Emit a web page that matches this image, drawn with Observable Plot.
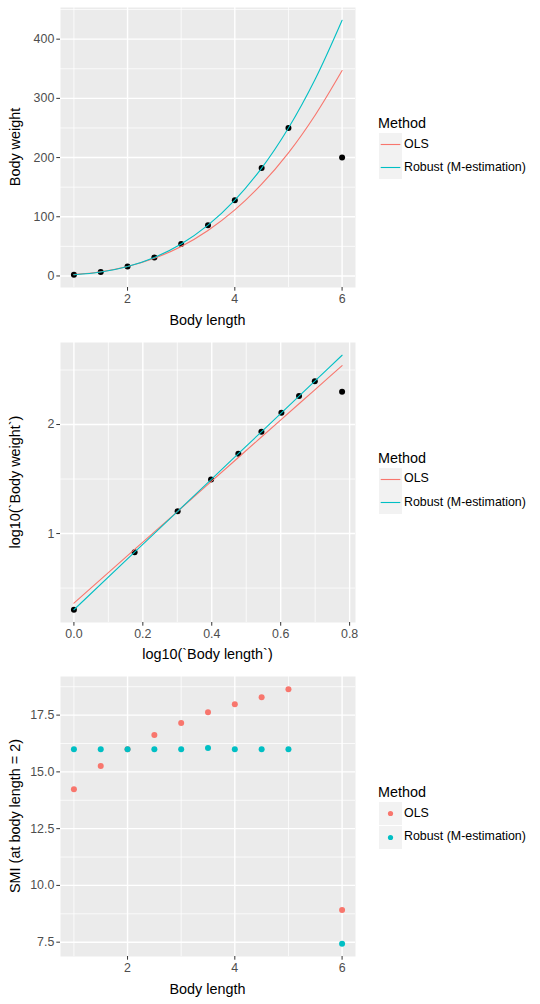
<!DOCTYPE html>
<html>
<head>
<meta charset="utf-8">
<script src="https://cdn.jsdelivr.net/npm/d3@7"></script>
<script src="https://cdn.jsdelivr.net/npm/@observablehq/plot@0.6"></script>
<style>
  html, body { margin: 0; padding: 0; background: #ffffff; }
  #wrap { position: relative; width: 540px; height: 1004px; overflow: hidden;
          font-family: "Liberation Sans", Arial, sans-serif; }
  .row { position: absolute; left: 0; width: 540px; height: 335px; }
  .row svg { position: absolute; left: 0; top: 0; }
  .lab { position: absolute; white-space: nowrap; line-height: 1; color: #000; }
  .ctr { transform: translate(-50%, -50%); }
  .rot { transform: translate(-50%, -50%) rotate(-90deg); }
  .key { position: absolute; width: 23px; height: 23px; background: #F2F2F2; }
</style>
</head>
<body>
<div id="wrap"></div>
<script>
// ---- data ----
const bodyLength = [1, 1.5, 2, 2.5, 3, 3.5, 4, 4.5, 5, 6];
const bodyWeight = [2, 6.75, 16, 31.25, 54, 85.75, 128, 182.25, 250, 200];

const fitLength  = [1, 1.5, 2, 2.5, 3, 3.5, 4, 4.5, 5, 5.5, 6];
const olsFit     = [2.3, 7.16, 16.0, 29.9, 49.8, 76.8, 111.5, 155, 208, 272, 347];
const robustFit  = [2, 6.75, 16, 31.25, 54, 85.75, 128, 182.25, 250, 332.75, 432];

const smiOLS     = [14.24, 15.26, 16.0, 16.62, 17.15, 17.63, 17.98, 18.29, 18.64, 8.92];
const smiRobust  = [16.0, 16.0, 16.0, 16.0, 16.0, 16.05, 16.0, 16.0, 16.0, 7.43];

const methods = ["OLS", "Robust (M-estimation)"];
const methodColors = ["#F8766D", "#00BFC4"];

// tick values
const lenMajor = [2, 4, 6];
const lenMinor = [1, 3, 5];
const wMajor = [0, 100, 200, 300, 400];
const wMinor = [50, 150, 250, 350, 450];
const logLenMajor = [0, 0.2, 0.4, 0.6, 0.8];
const logLenMinor = [0.1, 0.3, 0.5, 0.7];
const logWMajor = [1, 2];
const logWMinor = [0.5, 1.5, 2.5];
const smiMajor = [7.5, 10, 12.5, 15, 17.5];
const smiMinor = [8.75, 11.25, 13.75, 16.25, 18.75];

// ---- build tables ----
const pts = bodyLength.map((L, i) => ({L, W: bodyWeight[i], lL: Math.log10(L), lW: Math.log10(bodyWeight[i])}));
const fits = [];
fitLength.forEach((L, i) => {
  fits.push({L, W: olsFit[i], lL: Math.log10(L), lW: Math.log10(olsFit[i]), m: methods[0]});
});
fitLength.forEach((L, i) => {
  fits.push({L, W: robustFit[i], lL: Math.log10(L), lW: Math.log10(robustFit[i]), m: methods[1]});
});
const smi = [];
bodyLength.forEach((L, i) => smi.push({L, s: smiOLS[i], m: methods[0]}));
bodyLength.forEach((L, i) => smi.push({L, s: smiRobust[i], m: methods[1]}));

function expand(vals) {
  const [a, b] = d3.extent(vals);
  const d = (b - a) * 0.05;
  return [a - d, b + d];
}

const FONT = '"Liberation Sans", Arial, sans-serif';
const ROWH = 1004 / 3;

function panel({xDom, yDom, xMaj, xMin, yMaj, yMin, xFmt, yFmt, marks}) {
  return Plot.plot({
    width: 540, height: 335,
    marginLeft: 60, marginRight: 185, marginTop: 7, marginBottom: 48,
    x: {domain: xDom},
    y: {domain: yDom},
    color: {domain: methods, range: methodColors},
    style: {fontFamily: FONT, fontSize: "12.4px", background: "transparent", overflow: "visible"},
    marks: [
      Plot.frame({fill: "#EBEBEB", stroke: null}),
      Plot.ruleY(yMin, {stroke: "#ffffff", strokeWidth: 0.75}),
      Plot.ruleX(xMin, {stroke: "#ffffff", strokeWidth: 0.75}),
      Plot.ruleY(yMaj, {stroke: "#ffffff", strokeWidth: 1.4}),
      Plot.ruleX(xMaj, {stroke: "#ffffff", strokeWidth: 1.4}),
      Plot.axisX({ticks: xMaj, tickSize: 3.7, tickPadding: 2.5, stroke: "#333333", fill: "#4D4D4D", label: null, tickFormat: xFmt}),
      Plot.axisY({ticks: yMaj, tickSize: 3.7, tickPadding: 2.5, stroke: "#333333", fill: "#4D4D4D", label: null, tickFormat: yFmt}),
      ...marks
    ]
  });
}

const wrap = document.getElementById("wrap");

function addRow(i, svg, yTitle, xTitle, keyType) {
  const row = document.createElement("div");
  row.className = "row";
  row.style.top = (i * ROWH) + "px";
  row.appendChild(svg);
  const add = (html, cls, left, top, size) => {
    const d = document.createElement("div");
    d.className = "lab " + cls;
    d.style.left = left + "px";
    d.style.top = top + "px";
    d.style.fontSize = size + "px";
    d.textContent = html;
    row.appendChild(d);
    return d;
  };
  add(yTitle, "rot", 15, 147, 14.4);
  add(xTitle, "ctr", 207.5, 319.5, 14.4);
  // legend
  add("Method", "", 378, 116, 14.4);
  methods.forEach((m, k) => {
    const top = 133 + k * 23.2;
    const key = document.createElement("div");
    key.className = "key";
    key.style.left = "378.5px";
    key.style.top = top + "px";
    const ns = "http://www.w3.org/2000/svg";
    const s = document.createElementNS(ns, "svg");
    s.setAttribute("width", 23); s.setAttribute("height", 23);
    if (keyType === "line") {
      const l = document.createElementNS(ns, "line");
      l.setAttribute("x1", 1.7); l.setAttribute("x2", 21.3);
      l.setAttribute("y1", 11.5); l.setAttribute("y2", 11.5);
      l.setAttribute("stroke", methodColors[k]); l.setAttribute("stroke-width", 1.1);
      s.appendChild(l);
    } else {
      const c = document.createElementNS(ns, "circle");
      c.setAttribute("cx", 11.5); c.setAttribute("cy", 11.5); c.setAttribute("r", 2.6);
      c.setAttribute("fill", methodColors[k]);
      s.appendChild(c);
    }
    key.appendChild(s);
    row.appendChild(key);
    add(m, "", 404, top + 11.5 - 6.8, 12.4);
  });
  wrap.appendChild(row);
}

// Panel 1
const p1 = panel({
  xDom: [0.75, 6.25],
  yDom: expand([...bodyWeight, ...olsFit, ...robustFit]),
  xMaj: lenMajor, xMin: lenMinor, yMaj: wMajor, yMin: wMinor,
  xFmt: d3.format("d"), yFmt: d3.format("d"),
  marks: [
    Plot.dot(pts, {x: "L", y: "W", r: 3, fill: "#000000"}),
    Plot.line(fits, {x: "L", y: "W", z: "m", stroke: "m", strokeWidth: 1.1, curve: "catmull-rom"})
  ]
});
addRow(0, p1, "Body weight", "Body length", "line");

// Panel 2
const p2 = panel({
  xDom: expand(pts.map(d => d.lL)),
  yDom: expand([...pts.map(d => d.lW), ...fits.map(d => d.lW)]),
  xMaj: logLenMajor, xMin: logLenMinor, yMaj: logWMajor, yMin: logWMinor,
  xFmt: d3.format(".1f"), yFmt: d3.format("d"),
  marks: [
    Plot.dot(pts, {x: "lL", y: "lW", r: 3, fill: "#000000"}),
    Plot.line(fits, {x: "lL", y: "lW", z: "m", stroke: "m", strokeWidth: 1.1})
  ]
});
addRow(1, p2, "log10(`Body weight`)", "log10(`Body length`)", "line");

// Panel 3
const p3 = panel({
  xDom: [0.75, 6.25],
  yDom: expand(smi.map(d => d.s)),
  xMaj: lenMajor, xMin: lenMinor, yMaj: smiMajor, yMin: smiMinor,
  xFmt: d3.format("d"), yFmt: d3.format(".1f"),
  marks: [
    Plot.dot(smi, {x: "L", y: "s", r: 3, fill: "m"})
  ]
});
addRow(2, p3, "SMI (at body length = 2)", "Body length", "point");
</script>
</body>
</html>
